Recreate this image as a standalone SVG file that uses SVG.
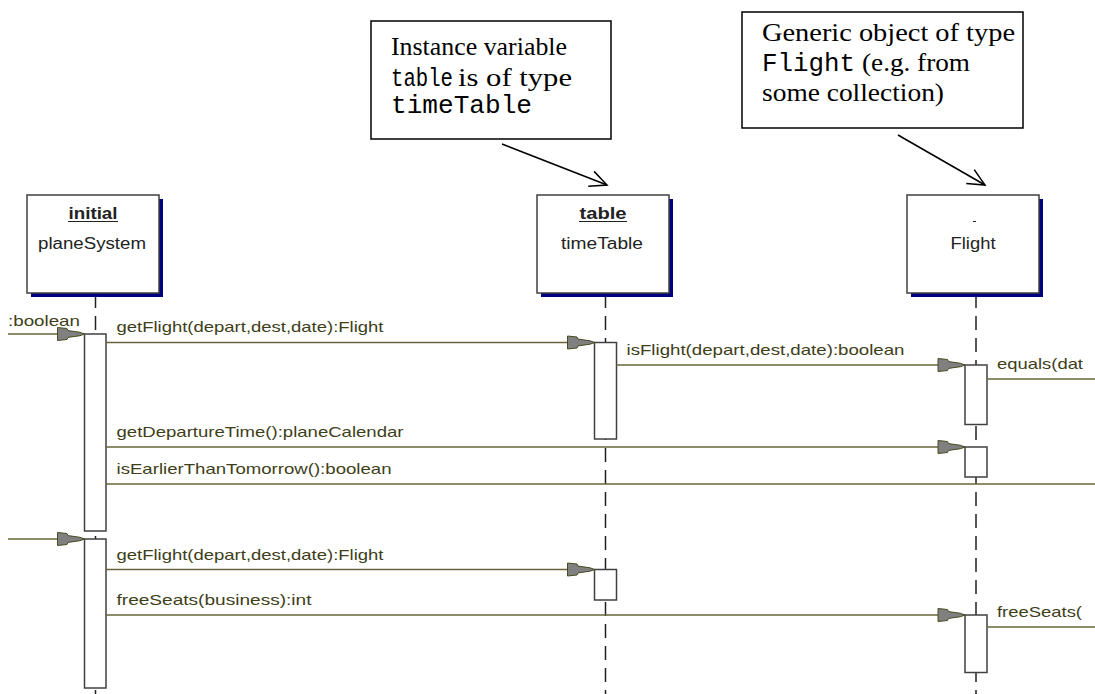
<svg xmlns="http://www.w3.org/2000/svg" width="1095" height="694" viewBox="0 0 1095 694">
<style>
.box{fill:#fff;stroke:#404040;stroke-width:1.5}
.shadow{fill:#000080}
.life{stroke:#202020;stroke-width:1.5;stroke-dasharray:14 8;fill:none}
.act{fill:#fff;stroke:#404040;stroke-width:1.5}
.msg{stroke:#66663a;stroke-width:1.5;fill:none}
.call{marker-end:url(#ah)}
.lbl{font-family:"Liberation Sans",Arial,sans-serif;font-size:15px;fill:#3e3e18}
.nm{font-family:"Liberation Sans",Arial,sans-serif;font-size:16px;fill:#222;text-anchor:middle}
.nmb{font-family:"Liberation Sans",Arial,sans-serif;font-size:16px;font-weight:bold;fill:#222;text-anchor:middle}
.note{fill:#fff;stroke:#000;stroke-width:1.5}
.tm{font-family:"Liberation Serif","Times New Roman",serif;font-size:25px;fill:#000}
.cr{font-family:"Liberation Mono","Courier New",monospace;font-size:25px;fill:#000}
.ptr{stroke:#000;stroke-width:1.5;fill:none;marker-end:url(#open)}
</style>
<defs>
<marker id="ah" markerUnits="userSpaceOnUse" markerWidth="29" markerHeight="15" refX="27.5" refY="7" orient="auto" overflow="visible">
<path d="M0.5,0.5 L10,1.5 L11,3.6 L23,5.3 L27.5,7 L23,8.7 L11,10.4 L10,12.5 L0.5,13.5 Z" fill="#808080" stroke="#4a4a22" stroke-width="1"/>
</marker>
<marker id="open" markerUnits="userSpaceOnUse" markerWidth="22" markerHeight="18" refX="19" refY="9" orient="auto" overflow="visible">
<path d="M2,1 L19,9 L2,17" fill="none" stroke="#000" stroke-width="1.5"/>
</marker>
</defs>

<g id="lifelines">
<line class="life" x1="95.5" y1="294" x2="95.5" y2="694"/>
<line class="life" x1="605.5" y1="294" x2="605.5" y2="694"/>
<line class="life" x1="976" y1="294" x2="976" y2="694"/>
</g>

<g id="note-table">
<rect class="note" x="371" y="21" width="240" height="118"/>
<text class="tm" x="391" y="55" textLength="176" lengthAdjust="spacingAndGlyphs">Instance variable</text>
<text class="cr" x="391" y="86" textLength="62" lengthAdjust="spacingAndGlyphs">table</text>
<text class="tm" x="458" y="86" textLength="114" lengthAdjust="spacingAndGlyphs">is of type</text>
<text class="cr" x="391" y="113" textLength="141" lengthAdjust="spacingAndGlyphs">timeTable</text>
</g>

<g id="note-flight">
<rect class="note" x="742" y="12" width="281" height="116"/>
<text class="tm" x="762" y="41" textLength="253" lengthAdjust="spacingAndGlyphs">Generic object of type</text>
<text class="cr" x="762" y="71" textLength="93" lengthAdjust="spacingAndGlyphs">Flight</text>
<text class="tm" x="862" y="71" textLength="108" lengthAdjust="spacingAndGlyphs">(e.g. from</text>
<text class="tm" x="762" y="101" textLength="182" lengthAdjust="spacingAndGlyphs">some collection)</text>
</g>

<g id="node-planeSystem">
<rect class="shadow" x="31" y="199" width="132" height="98"/>
<rect class="box" x="27" y="195" width="132" height="98"/>
<text class="nmb" x="93" y="219" textLength="49" lengthAdjust="spacingAndGlyphs">initial</text>
<line x1="68" y1="221.5" x2="118" y2="221.5" stroke="#222" stroke-width="1"/>
<text class="nm" x="92" y="249" textLength="108" lengthAdjust="spacingAndGlyphs">planeSystem</text>
</g>

<g id="node-timeTable">
<rect class="shadow" x="541" y="199" width="132" height="98"/>
<rect class="box" x="537" y="195" width="132" height="98"/>
<text class="nmb" x="603" y="219" textLength="47" lengthAdjust="spacingAndGlyphs">table</text>
<line x1="579" y1="221.5" x2="627" y2="221.5" stroke="#222" stroke-width="1"/>
<text class="nm" x="602" y="249" textLength="82" lengthAdjust="spacingAndGlyphs">timeTable</text>
</g>

<g id="node-Flight">
<rect class="shadow" x="911" y="199" width="132" height="98"/>
<rect class="box" x="907" y="195" width="132" height="98"/>
<line x1="973" y1="221.5" x2="976" y2="221.5" stroke="#222" stroke-width="1"/>
<text class="nm" x="973" y="249" textLength="45" lengthAdjust="spacingAndGlyphs">Flight</text>
</g>

<g id="activations">
<rect class="act" x="84.5" y="334" width="21.5" height="197"/>
<rect class="act" x="84.5" y="539" width="21.5" height="149"/>
<rect class="act" x="594.5" y="342.5" width="22" height="96.5"/>
<rect class="act" x="594.5" y="569.5" width="22" height="30.5"/>
<rect class="act" x="965" y="365" width="22" height="59.5"/>
<rect class="act" x="965" y="447" width="22" height="30"/>
<rect class="act" x="965" y="615" width="22" height="57.5"/>
</g>

<g id="connectors">
<line class="msg" x1="8" y1="334" x2="84.5" y2="334" marker-end="url(#ah)"/>
<line class="msg call" x1="106" y1="342.5" x2="594.5" y2="342.5"/>
<line class="msg call" x1="616.5" y1="365" x2="965" y2="365"/>
<line class="msg" x1="987" y1="379" x2="1095" y2="379"/>
<line class="msg call" x1="106" y1="447" x2="965" y2="447"/>
<line class="msg" x1="106" y1="484" x2="1095" y2="484"/>
<line class="msg" x1="8" y1="539" x2="84.5" y2="539" marker-end="url(#ah)"/>
<line class="msg call" x1="106" y1="569.5" x2="594.5" y2="569.5"/>
<line class="msg call" x1="106" y1="615" x2="965" y2="615"/>
<line class="msg" x1="987" y1="627" x2="1095" y2="627"/>
<line class="ptr" x1="502" y1="144" x2="607" y2="185"/>
<line class="ptr" x1="898" y1="135" x2="985" y2="185"/>
</g>

<g id="labels">
<text class="lbl" x="8" y="326" textLength="72" lengthAdjust="spacingAndGlyphs">:boolean</text>
<text class="lbl" x="116.5" y="332" textLength="267" lengthAdjust="spacingAndGlyphs">getFlight(depart,dest,date):Flight</text>
<text class="lbl" x="626.5" y="355" textLength="278" lengthAdjust="spacingAndGlyphs">isFlight(depart,dest,date):boolean</text>
<text class="lbl" x="997" y="369" textLength="86" lengthAdjust="spacingAndGlyphs">equals(dat</text>
<text class="lbl" x="116.5" y="437" textLength="287" lengthAdjust="spacingAndGlyphs">getDepartureTime():planeCalendar</text>
<text class="lbl" x="116.5" y="474" textLength="275" lengthAdjust="spacingAndGlyphs">isEarlierThanTomorrow():boolean</text>
<text class="lbl" x="116.5" y="560" textLength="267" lengthAdjust="spacingAndGlyphs">getFlight(depart,dest,date):Flight</text>
<text class="lbl" x="116.5" y="605" textLength="195" lengthAdjust="spacingAndGlyphs">freeSeats(business):int</text>
<text class="lbl" x="997" y="617" textLength="85" lengthAdjust="spacingAndGlyphs">freeSeats(</text>
</g>
</svg>
